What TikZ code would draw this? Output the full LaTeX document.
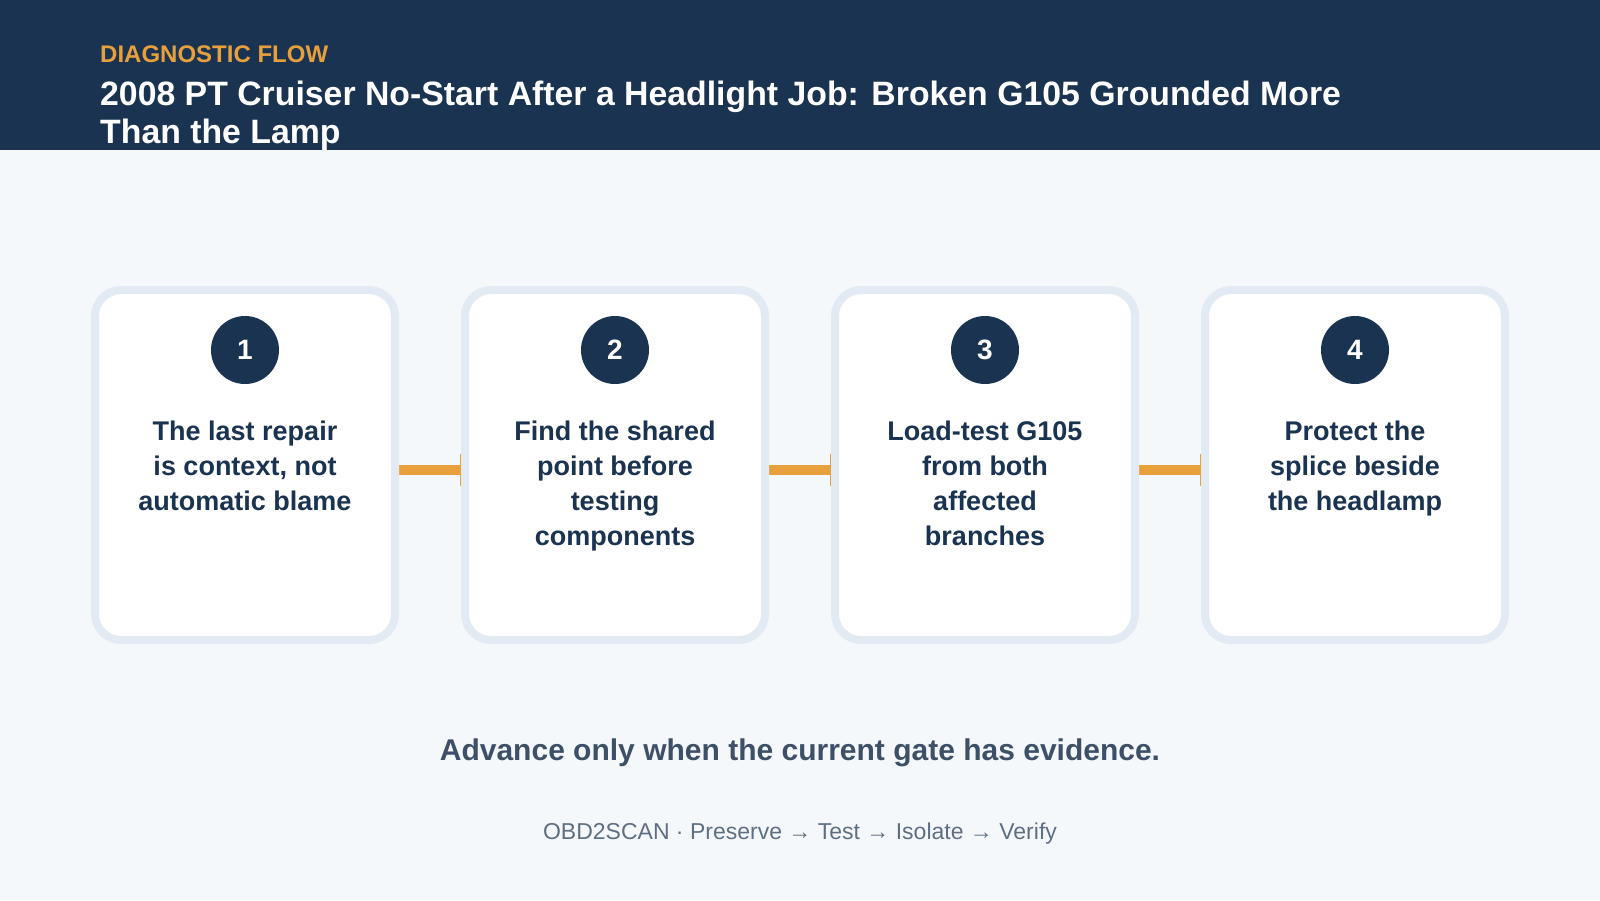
\documentclass[tikz,border=0pt]{standalone}
\usepackage{fontspec}
\setmainfont{Liberation Sans}
\usepackage{tikz}
\usetikzlibrary{positioning}
\usetikzlibrary{arrows.meta}
\definecolor{navy}{HTML}{1A3350}
\definecolor{amber}{HTML}{E8A03C}
\definecolor{paper}{HTML}{F5F8FB}
\definecolor{rim}{HTML}{E2EAF3}
\definecolor{slate}{HTML}{3D5068}
\definecolor{mist}{HTML}{5F6F82}
\pgfdeclarelayer{bglayer}
\pgfdeclarelayer{nodelayer}
\pgfdeclarelayer{edgelayer}
\pgfsetlayers{bglayer,edgelayer,nodelayer,main}
\tikzset{card/.style={shape=rectangle, rounded corners=26pt, draw=rim, line width=8pt, fill=white,
minimum width=300pt, minimum height=350pt, inner sep=0pt}}
\tikzset{badge/.style={shape=circle, fill=navy, text=white, minimum size=68pt, inner sep=0pt,
font=\fontsize{28}{30}\selectfont\bfseries}}
\tikzset{gate/.style={anchor=north, align=center, text=navy, inner sep=0pt,
font=\fontsize{27}{35}\selectfont\bfseries}}
\tikzset{flow/.style={draw=amber, line width=10pt, -{Bar[width=32pt, line width=1.5pt]}}}
\tikzstyle{none}=[inner sep=0pt]

\begin{document}
\begin{tikzpicture}[x=1pt, y=-1pt]
        \useasboundingbox (0,0) rectangle (1600,900);
        \begin{pgfonlayer}{bglayer}
            \fill [paper] (0,0) rectangle (1600,900);
            \fill [navy] (0,0) rectangle (1600,150);
        \end{pgfonlayer}
        \begin{pgfonlayer}{nodelayer}
            \node [style=none, anchor=base west, text=amber, font=\fontsize{24}{28}\selectfont\bfseries] (t0) at (100, 62) {DIAGNOSTIC FLOW};
            \node [style=none, anchor=north west, align=left, text=white, font=\fontsize{33.8}{38}\selectfont\bfseries] (t1) at (100, 80.5) {2008 PT Cruiser No-Start After a Headlight Job: Broken G105 Grounded More\\Than the Lamp};
            \node [style=card] (0) at (245, 465) {};
            \node [style=card] (1) at (615, 465) {};
            \node [style=card] (2) at (985, 465) {};
            \node [style=card] (3) at (1355, 465) {};
            \node [style=badge] (4) at (245, 350) {1};
            \node [style=badge] (5) at (615, 350) {2};
            \node [style=badge] (6) at (985, 350) {3};
            \node [style=badge] (7) at (1355, 350) {4};
            \node [style=gate] (8) at (245, 421) {The last repair\\is context, not\\automatic blame};
            \node [style=gate] (9) at (615, 421) {Find the shared\\point before\\testing\\components};
            \node [style=gate] (10) at (985, 421) {Load-test G105\\from both\\affected\\branches};
            \node [style=gate] (11) at (1355, 421) {Protect the\\splice beside\\the headlamp};
            \node [style=none, anchor=base, text=slate, font=\fontsize{30}{34}\selectfont\bfseries] (12) at (800, 760) {Advance only when the current gate has evidence.};
            \node [style=none, anchor=base, text=mist, font=\fontsize{23}{26}\selectfont] (13) at (800, 839) {OBD2SCAN · Preserve → Test → Isolate → Verify};
        \end{pgfonlayer}
        \begin{pgfonlayer}{edgelayer}
            \draw [style=flow] ([yshift=-5pt]0.east) to ([yshift=-5pt]1.west);
            \draw [style=flow] ([yshift=-5pt]1.east) to ([yshift=-5pt]2.west);
            \draw [style=flow] ([yshift=-5pt]2.east) to ([yshift=-5pt]3.west);
        \end{pgfonlayer}
    \end{tikzpicture}
\end{document}
